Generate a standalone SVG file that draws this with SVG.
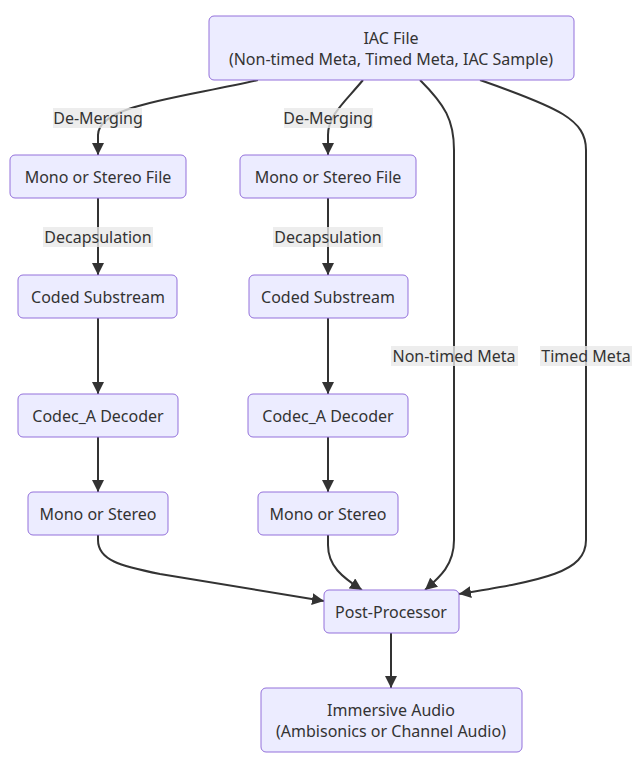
<svg xmlns="http://www.w3.org/2000/svg" width="643" height="757" viewBox="0 0 643 757">
  <style>
    .node rect { fill: #ECECFF; stroke: #9370DB; stroke-width: 1; }
    text { font-family: "Noto Sans", "Liberation Sans", Arial, sans-serif; font-size: 16px; fill: #333; text-anchor: middle; dominant-baseline: central; }
    .edge { fill: none; stroke: #333; stroke-width: 2; marker-end: url(#arrow); }
    .lbl rect { fill: #e8e8e8; opacity: 0.8; }
  </style>
  <defs>
    <marker id="arrow" viewBox="0 0 10 10" refX="10" refY="5" markerUnits="userSpaceOnUse" markerWidth="12" markerHeight="12" orient="auto">
      <path d="M0,0 L10,5 L0,10 z" fill="#333"/>
    </marker>
  </defs>
  <rect width="643" height="757" fill="#fff"/>

  <g id="connectors">
    <path class="edge" d="M258,80 C180,98 98,105 98,135 L98,155"/>
    <path class="edge" d="M363,80 C345,102 328,115 328,135 L328,155"/>
    <path class="edge" d="M98,198 L98,275"/>
    <path class="edge" d="M328,198 L328,275"/>
    <path class="edge" d="M98,318 L98,394"/>
    <path class="edge" d="M328,318 L328,394"/>
    <path class="edge" d="M98,437 L98,492"/>
    <path class="edge" d="M328,437 L328,492"/>
    <path class="edge" d="M420,80 C445,105 454,120 454,150 L454,540 C454,565 440,577 425,590"/>
    <path class="edge" d="M480,80 C560,108 586,120 586,150 L586,540 C586,572 545,580 459,594"/>
    <path class="edge" d="M98,535 L98,540 C98,560 120,566 160,574 L324,601"/>
    <path class="edge" d="M328,535 L328,545 C328,566 342,577 362,590"/>
    <path class="edge" d="M391,633 L391,688"/>

    <g class="lbl">
      <rect x="53" y="108" width="89" height="20"/><text x="98" y="118">De-Merging</text>
      <rect x="284" y="108" width="89" height="20"/><text x="328" y="118">De-Merging</text>
      <rect x="43" y="227" width="110" height="20"/><text x="98" y="237">Decapsulation</text>
      <rect x="273" y="227" width="110" height="20"/><text x="328" y="237">Decapsulation</text>
      <rect x="391" y="346" width="127" height="20"/><text x="454" y="356">Non-timed Meta</text>
      <rect x="540" y="346" width="92" height="20"/><text x="586" y="356">Timed Meta</text>
    </g>
  </g>

  <g id="iac" class="node">
    <rect x="209" y="16" width="365" height="64" rx="5"/>
    <text x="391" y="38">IAC File</text>
    <text x="391" y="59">(Non-timed Meta, Timed Meta, IAC Sample)</text>
  </g>
  <g id="fileA" class="node">
    <rect x="10" y="155" width="176" height="43" rx="5"/>
    <text x="98" y="177">Mono or Stereo File</text>
  </g>
  <g id="fileB" class="node">
    <rect x="240" y="155" width="176" height="43" rx="5"/>
    <text x="328" y="177">Mono or Stereo File</text>
  </g>
  <g id="subA" class="node">
    <rect x="18" y="275" width="159" height="43" rx="5"/>
    <text x="98" y="297">Coded Substream</text>
  </g>
  <g id="subB" class="node">
    <rect x="249" y="275" width="159" height="43" rx="5"/>
    <text x="328" y="297">Coded Substream</text>
  </g>
  <g id="decA" class="node">
    <rect x="18" y="394" width="160" height="43" rx="5"/>
    <text x="98" y="416">Codec_A Decoder</text>
  </g>
  <g id="decB" class="node">
    <rect x="248" y="394" width="160" height="43" rx="5"/>
    <text x="328" y="416">Codec_A Decoder</text>
  </g>
  <g id="outA" class="node">
    <rect x="28" y="492" width="140" height="43" rx="5"/>
    <text x="98" y="514">Mono or Stereo</text>
  </g>
  <g id="outB" class="node">
    <rect x="258" y="492" width="140" height="43" rx="5"/>
    <text x="328" y="514">Mono or Stereo</text>
  </g>
  <g id="post" class="node">
    <rect x="324" y="590" width="135" height="43" rx="5"/>
    <text x="391" y="612">Post-Processor</text>
  </g>
  <g id="immersive" class="node">
    <rect x="261" y="688" width="261" height="64" rx="5"/>
    <text x="391" y="710">Immersive Audio</text>
    <text x="391" y="731">(Ambisonics or Channel Audio)</text>
  </g>
</svg>
